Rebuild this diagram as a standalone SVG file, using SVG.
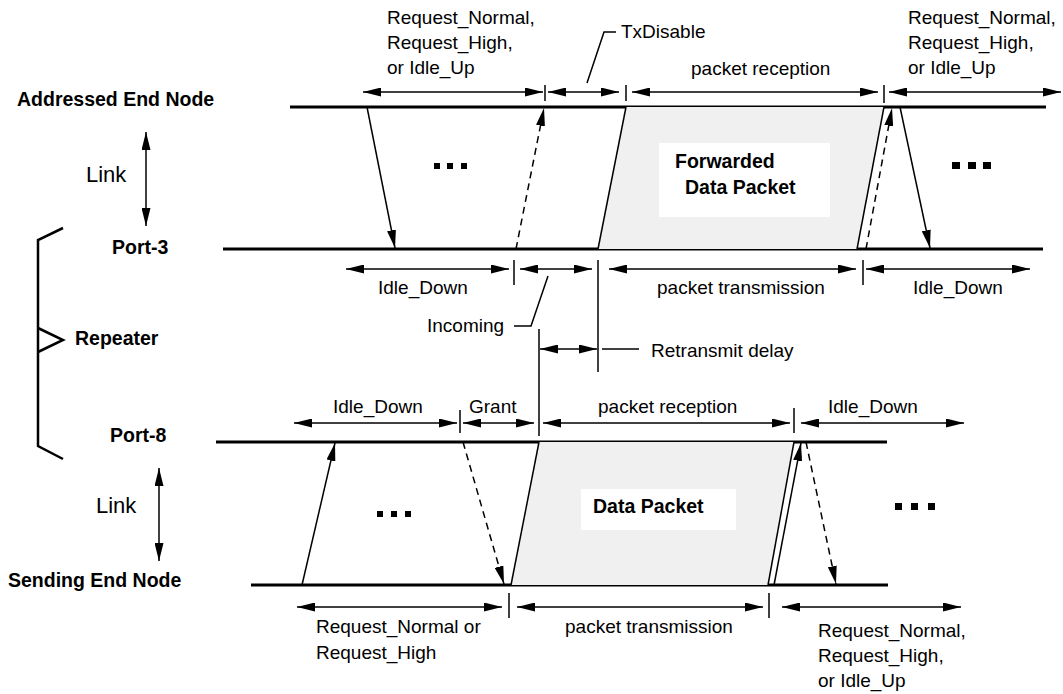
<svg xmlns="http://www.w3.org/2000/svg" width="1063" height="694" viewBox="0 0 1063 694">
  <defs>
    <marker id="ah" viewBox="0 0 18 9" refX="18" refY="4.5" markerWidth="18" markerHeight="9" markerUnits="userSpaceOnUse" orient="auto-start-reverse">
      <path d="M0,0 L18,4.5 L0,9 z" fill="#000"/>
    </marker>
    <style>
      .t { font-family: "Liberation Sans", Arial, sans-serif; font-size: 19px; fill: #000; }
      .b { font-family: "Liberation Sans", Arial, sans-serif; font-size: 19.5px; font-weight: bold; fill: #000; }
      .lk { font-family: "Liberation Sans", Arial, sans-serif; font-size: 22px; fill: #000; }
      .axis { stroke: #000; stroke-width: 3; fill: none; }
      .dim { stroke: #000; stroke-width: 1.5; fill: none; marker-start: url(#ah); marker-end: url(#ah); }
      .tick { stroke: #000; stroke-width: 1.5; fill: none; }
      .sig { stroke: #000; stroke-width: 1.5; fill: none; marker-end: url(#ah); }
      .dash { stroke-dasharray: 7 5; }
      .pkt { fill: #f0f0f0; stroke: none; }
      .edge { stroke: #000; stroke-width: 1.5; fill: none; }
      .brk { stroke: #000; stroke-width: 2.5; fill: none; }
    </style>
  </defs>

  <!-- node timelines -->
  <g id="addressed-end-node">
    <line class="axis" x1="290" y1="107" x2="1046" y2="107"/>
    <text class="b" x="17" y="106">Addressed End Node</text>
  </g>
  <g id="port-3">
    <line class="axis" x1="223" y1="249" x2="1043" y2="249"/>
    <text class="b" x="112" y="254">Port-3</text>
  </g>
  <g id="port-8">
    <line class="axis" x1="216" y1="442" x2="887" y2="442"/>
    <text class="b" x="110" y="442">Port-8</text>
  </g>
  <g id="sending-end-node">
    <line class="axis" x1="251" y1="585" x2="888" y2="585"/>
    <text class="b" x="8" y="587">Sending End Node</text>
  </g>

  <!-- repeater bracket -->
  <g id="repeater">
    <path class="brk" d="M63,228 L38,240 L38,446 L63,459"/>
    <path class="brk" d="M38,328 L63,340 L38,352"/>
    <text class="b" x="75" y="345">Repeater</text>
  </g>

  <!-- packets in flight -->
  <g id="forwarded-data-packet">
    <polygon class="pkt" points="626,107 884,107 857,249 598,249"/>
    <line class="edge" x1="626" y1="107" x2="598" y2="249"/>
    <line class="edge" x1="884" y1="107" x2="857" y2="249"/>
    <rect x="659" y="143" width="171" height="74" fill="#fff"/>
    <text class="b" x="675" y="168">Forwarded</text>
    <text class="b" x="685" y="194">Data Packet</text>
  </g>
  <g id="data-packet">
    <polygon class="pkt" points="539,442 794,442 768,585 511,585"/>
    <line class="edge" x1="539" y1="442" x2="511" y2="585"/>
    <line class="edge" x1="794" y1="442" x2="768" y2="585"/>
    <rect x="581" y="489" width="155" height="41" fill="#fff"/>
    <text class="b" x="593" y="513">Data Packet</text>
  </g>

  <!-- ellipsis marks -->
  <g id="ellipses" fill="#000">
    <rect x="434" y="163" width="6" height="6"/>
    <rect x="447" y="163" width="6" height="6"/>
    <rect x="461" y="163" width="6" height="6"/>
    <rect x="952" y="162" width="8" height="7"/>
    <rect x="968" y="162" width="8" height="7"/>
    <rect x="983" y="162" width="8" height="7"/>
    <rect x="377" y="511" width="6" height="6"/>
    <rect x="391" y="511" width="6" height="6"/>
    <rect x="405" y="511" width="6" height="6"/>
    <rect x="895" y="503" width="7" height="7"/>
    <rect x="911" y="503" width="7" height="7"/>
    <rect x="928" y="503" width="7" height="7"/>
  </g>

  <!-- link indicators -->
  <g id="link-upper">
    <line class="dim" x1="146" y1="132" x2="146" y2="226"/>
    <text class="lk" x="86" y="182">Link</text>
  </g>
  <g id="link-lower">
    <line class="dim" x1="159" y1="468" x2="159" y2="561"/>
    <text class="lk" x="96" y="513">Link</text>
  </g>

  <g id="connectors">
    <!-- signals between addressed end node and port-3 -->
    <line class="sig" x1="367" y1="107" x2="395" y2="248"/>
    <line class="sig dash" x1="516" y1="249" x2="544" y2="108"/>
    <line class="sig dash" x1="866" y1="249" x2="892" y2="108"/>
    <line class="sig" x1="900" y1="107" x2="930" y2="248"/>
    <!-- signals between port-8 and sending end node -->
    <line class="sig" x1="302" y1="585" x2="335" y2="443"/>
    <line class="sig dash" x1="463" y1="442" x2="504" y2="584"/>
    <line class="sig" x1="774" y1="585" x2="801" y2="443"/>
    <line class="sig dash" x1="806" y1="442" x2="836" y2="584"/>

    <!-- intervals above addressed end node -->
    <line class="dim" x1="363" y1="92" x2="543" y2="92"/>
    <line class="dim" x1="548" y1="92" x2="619" y2="92"/>
    <line class="dim" x1="632" y1="92" x2="878" y2="92"/>
    <line class="dim" x1="889" y1="92" x2="1061" y2="92"/>
    <line class="tick" x1="545" y1="85" x2="545" y2="101"/>
    <line class="tick" x1="626" y1="85" x2="626" y2="101"/>
    <line class="tick" x1="884" y1="85" x2="884" y2="103"/>
    <path class="tick" d="M587,83 L604,32 L616,32"/>

    <!-- intervals below port-3 -->
    <line class="dim" x1="346" y1="269" x2="509" y2="269"/>
    <line class="dim" x1="520" y1="269" x2="592" y2="269"/>
    <line class="dim" x1="609" y1="269" x2="856" y2="269"/>
    <line class="dim" x1="866" y1="269" x2="1030" y2="269"/>
    <line class="tick" x1="514" y1="260" x2="514" y2="285"/>
    <line class="tick" x1="598" y1="260" x2="598" y2="372"/>
    <line class="tick" x1="863" y1="260" x2="863" y2="285"/>
    <path class="tick" d="M514,326 L531,326 L548,276"/>

    <!-- retransmit delay -->
    <line class="tick" x1="539" y1="329" x2="539" y2="436"/>
    <line class="dim" x1="540" y1="349" x2="597" y2="349"/>
    <line class="tick" x1="602" y1="349" x2="639" y2="349"/>

    <!-- intervals above port-8 -->
    <line class="dim" x1="294" y1="423" x2="457" y2="423"/>
    <line class="dim" x1="463" y1="423" x2="534" y2="423"/>
    <line class="dim" x1="543" y1="423" x2="790" y2="423"/>
    <line class="dim" x1="801" y1="423" x2="964" y2="423"/>
    <line class="tick" x1="460" y1="410" x2="460" y2="433"/>
    <line class="tick" x1="794" y1="408" x2="794" y2="433"/>

    <!-- intervals below sending end node -->
    <line class="dim" x1="297" y1="607" x2="502" y2="607"/>
    <line class="dim" x1="517" y1="607" x2="763" y2="607"/>
    <line class="dim" x1="782" y1="607" x2="961" y2="607"/>
    <line class="tick" x1="509" y1="593" x2="509" y2="618"/>
    <line class="tick" x1="769" y1="593" x2="769" y2="618"/>
  </g>

  <!-- interval labels -->
  <g id="labels">
    <text class="t" x="387" y="24">Request_Normal,</text>
    <text class="t" x="387" y="49">Request_High,</text>
    <text class="t" x="387" y="74">or Idle_Up</text>
    <text class="t" x="621" y="38">TxDisable</text>
    <text class="t" x="691" y="75">packet reception</text>
    <text class="t" x="908" y="24">Request_Normal,</text>
    <text class="t" x="908" y="49">Request_High,</text>
    <text class="t" x="908" y="74">or Idle_Up</text>

    <text class="t" x="378" y="294">Idle_Down</text>
    <text class="t" x="657" y="294">packet transmission</text>
    <text class="t" x="913" y="294">Idle_Down</text>
    <text class="t" x="427" y="332">Incoming</text>
    <text class="t" x="651" y="357">Retransmit delay</text>

    <text class="t" x="333" y="413">Idle_Down</text>
    <text class="t" x="469" y="413">Grant</text>
    <text class="t" x="598" y="413">packet reception</text>
    <text class="t" x="828" y="413">Idle_Down</text>

    <text class="t" x="316" y="633">Request_Normal or</text>
    <text class="t" x="316" y="659">Request_High</text>
    <text class="t" x="565" y="633">packet transmission</text>
    <text class="t" x="818" y="637">Request_Normal,</text>
    <text class="t" x="818" y="662">Request_High,</text>
    <text class="t" x="818" y="687">or Idle_Up</text>
  </g>
</svg>
